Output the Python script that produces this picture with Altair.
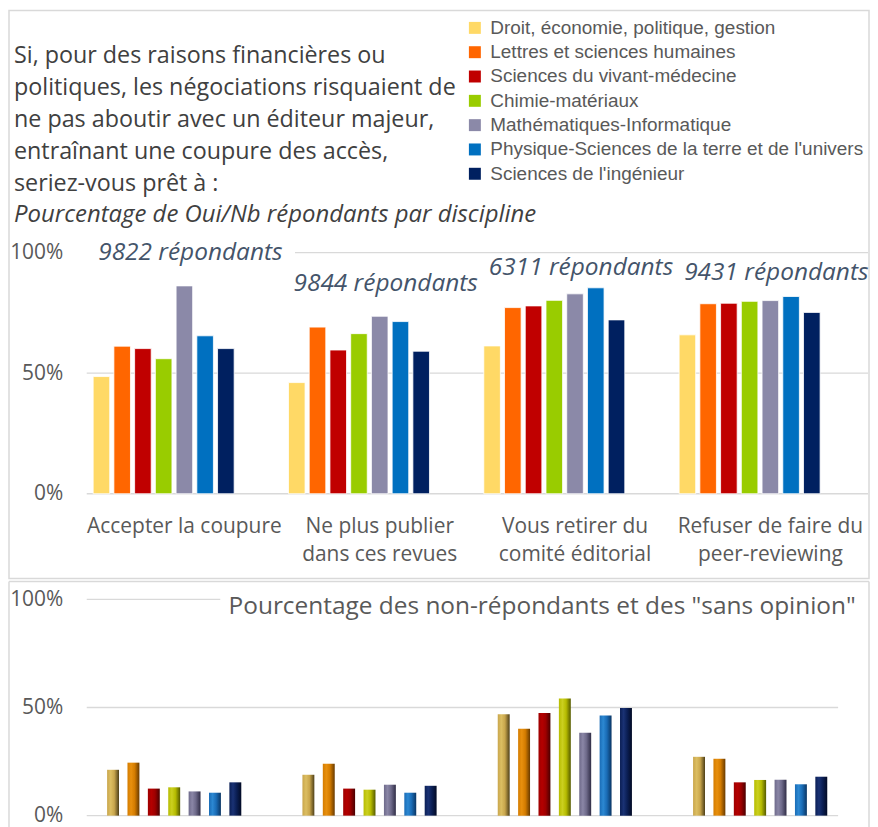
import altair as alt
import pandas as pd

# ---------------- data ----------------
categories = [
    "Accepter la coupure",
    "Ne plus publier\ndans ces revues",
    "Vous retirer du\ncomité éditorial",
    "Refuser de faire du\npeer-reviewing",
]
disciplines = [
    "Droit, économie, politique, gestion",
    "Lettres et sciences humaines",
    "Sciences du vivant-médecine",
    "Chimie-matériaux",
    "Mathématiques-Informatique",
    "Physique-Sciences de la terre et de l'univers",
    "Sciences de l'ingénieur",
]

# % de Oui / nb répondants
oui_accepter = [48.6, 61.2, 60.2, 56.0, 86.2, 65.5, 60.2]
oui_publier = [46.1, 69.1, 59.6, 66.4, 73.6, 71.4, 59.1]
oui_comite = [61.3, 77.2, 77.9, 80.2, 82.9, 85.4, 72.1]
oui_peer = [65.9, 78.8, 79.0, 79.8, 80.1, 81.8, 75.2]

# % non-répondants et "sans opinion"
nr_accepter = [21.2, 24.5, 12.5, 13.1, 11.2, 10.6, 15.4]
nr_publier = [18.9, 24.0, 12.5, 12.0, 14.3, 10.6, 13.8]
nr_comite = [46.9, 40.2, 47.5, 54.2, 38.3, 46.3, 49.8]
nr_peer = [27.2, 26.3, 15.4, 16.5, 16.6, 14.5, 18.0]

respondents = [9822, 9844, 6311, 9431]
respondent_label_level = [100, 86.8, 93.8, 91.7]

y_ticks = [0, 50, 100]

title_lines = [
    "Si, pour des raisons financières ou",
    "politiques, les négociations risquaient de",
    "ne pas aboutir avec un éditeur majeur,",
    "entraînant une coupure des accès,",
    "seriez-vous prêt à :",
]
subtitle = "Pourcentage de Oui/Nb répondants par discipline"
bottom_title = 'Pourcentage des non-répondants et des "sans opinion"'

# ---------------- styles ----------------
top_colors = ["#FFD966", "#FF6600", "#C00000", "#99CC00", "#8B89A8", "#0070C0", "#002060"]
grad_light = ["#DCBE62", "#E8900E", "#B40000", "#CBD020", "#8A86A6", "#2C88D2", "#1A3274"]
grad_mid = ["#C9A64C", "#D47C00", "#9E0000", "#B6BC00", "#6E6A8A", "#1A6CB6", "#0B1F55"]
grad_dark = ["#4E3F18", "#683A00", "#4A0000", "#555A00", "#302D46", "#0A3563", "#020A24"]

FONT = "Open Sans"
GRID = "#D9D9D9"
TXT = "#595959"

W = 784
H_TOP = 242
H_BOT = 217

# ---------------- tables ----------------
rows = []
for cat, vals in zip(categories, [oui_accepter, oui_publier, oui_comite, oui_peer]):
    for d, v in zip(disciplines, vals):
        rows.append({"categorie": cat, "discipline": d, "valeur": v})
top_df = pd.DataFrame(rows)

rows = []
for cat, vals in zip(categories, [nr_accepter, nr_publier, nr_comite, nr_peer]):
    for d, v in zip(disciplines, vals):
        rows.append({"categorie": cat, "discipline": d, "valeur": v})
bot_df = pd.DataFrame(rows)

ann_df = pd.DataFrame({
    "categorie": categories,
    "label": [f"{n} répondants" for n in respondents],
    "niveau": respondent_label_level,
})
one = pd.DataFrame({"k": [0]})
grid_low = pd.DataFrame({"t": y_ticks[:2]})
grid_top = pd.DataFrame({"t": y_ticks[2:]})

# ---------------- shared encodings ----------------
y_scale = alt.Scale(domain=[0, 100], nice=False, zero=True)
y_axis = alt.Axis(values=y_ticks, labelExpr="datum.value + '%'", grid=False, domain=False,
                  ticks=False, labelPadding=24, title=None, labelFont=FONT, labelFontSize=21,
                  labelColor=TXT)

x_scale = alt.Scale(paddingInner=0, paddingOuter=0)
x_axis_top = alt.Axis(title=None, labelExpr="split(datum.label, '\\n')", labelFont=FONT,
                      labelFontSize=21, labelColor=TXT, labelPadding=22, ticks=False,
                      domain=False, labelLineHeight=28, labelAngle=0, labelLimit=400,
                      labelOverlap=False, grid=False)

x_top = alt.X("categorie:N", sort=categories, scale=x_scale, axis=x_axis_top)

# ---------------- top panel ----------------
top_border = alt.Chart(one).mark_rect(fillOpacity=0, stroke=GRID, strokeWidth=1.5).encode(
    x=alt.value(-78), x2=alt.value(785), y=alt.value(-243), y2=alt.value(327)
)
top_grid_low = alt.Chart(grid_low).mark_rule(color=GRID, strokeWidth=1.3).encode(
    y=alt.Y("t:Q", scale=y_scale, axis=y_axis), x=alt.value(0), x2=alt.value(W)
)
top_grid_high = alt.Chart(grid_top).mark_rule(color=GRID, strokeWidth=1.3).encode(
    y=alt.Y("t:Q", scale=y_scale, axis=y_axis), x=alt.value(209), x2=alt.value(W)
)
top_bars = alt.Chart(top_df).mark_bar(stroke="white", strokeWidth=0.8).encode(
    x=x_top,
    xOffset=alt.XOffset("discipline:N",
                        scale=alt.Scale(domain=disciplines + ["_v1", "_v2"],
                                        paddingInner=0.2, paddingOuter=0.31)),
    y=alt.Y("valeur:Q", scale=y_scale, axis=y_axis),
    color=alt.Color("discipline:N",
                    scale=alt.Scale(domain=disciplines, range=top_colors),
                    legend=alt.Legend(title=None, orient="none", legendX=380, legendY=-235,
                                      direction="vertical", symbolType="square",
                                      symbolSize=144, symbolStrokeWidth=0,
                                      labelFont="Liberation Sans", labelFontSize=19,
                                      labelColor=TXT, labelOffset=6, rowPadding=4.4,
                                      labelLimit=500, padding=0)),
)
top_labels = alt.Chart(ann_df).mark_text(
    font=FONT, fontStyle="italic", fontSize=24.5, color="#44546A", baseline="middle", dx=6
).encode(
    x=x_top,
    y=alt.Y("niveau:Q", scale=y_scale, axis=y_axis),
    text="label:N",
)
top_title = alt.Chart(one).mark_text(
    align="left", baseline="alphabetic", font=FONT, fontSize=23.4, lineHeight=32,
    color="#404040"
).encode(x=alt.value(-73), y=alt.value(-190), text=alt.value(title_lines))
top_subtitle = alt.Chart(one).mark_text(
    align="left", baseline="alphabetic", font=FONT, fontSize=24, fontStyle="italic",
    color="#404040"
).encode(x=alt.value(-73), y=alt.value(-31), text=alt.value(subtitle))

top = alt.layer(top_border, top_grid_low, top_grid_high, top_bars, top_labels,
                top_title, top_subtitle).properties(width=W, height=H_TOP)

# ---------------- bottom panel ----------------
x_bot = alt.X("categorie:N", sort=categories, scale=x_scale, axis=None)
xoff_bot = alt.XOffset("discipline:N",
                       scale=alt.Scale(domain=["_v0"] + disciplines + ["_v1", "_v2"],
                                       paddingInner=0.415, paddingOuter=0))

bot_layers = []
bot_layers.append(alt.Chart(one).mark_rule(color=GRID, strokeWidth=1.5).encode(
    x=alt.value(-78), y=alt.value(-18), y2=alt.value(240)))
bot_layers.append(alt.Chart(one).mark_rule(color=GRID, strokeWidth=1.5).encode(
    x=alt.value(785), y=alt.value(-18), y2=alt.value(240)))
bot_layers.append(alt.Chart(one).mark_rule(color=GRID, strokeWidth=1.5).encode(
    x=alt.value(-78), x2=alt.value(785), y=alt.value(-18)))
bot_layers.append(alt.Chart(grid_low).mark_rule(color=GRID, strokeWidth=1.3).encode(
    y=alt.Y("t:Q", scale=y_scale, axis=y_axis), x=alt.value(0), x2=alt.value(754)))
bot_layers.append(alt.Chart(grid_top).mark_rule(color=GRID, strokeWidth=1.3).encode(
    y=alt.Y("t:Q", scale=y_scale, axis=y_axis), x=alt.value(0), x2=alt.value(134)))

for i, d in enumerate(disciplines):
    grad = alt.LinearGradient(
        gradient="linear", x1=0, x2=1, y1=0, y2=0,
        stops=[alt.GradientStop(offset=0, color=grad_mid[i]),
               alt.GradientStop(offset=0.3, color=grad_light[i]),
               alt.GradientStop(offset=0.6, color=grad_mid[i]),
               alt.GradientStop(offset=1, color=grad_dark[i])],
    )
    bot_layers.append(
        alt.Chart(bot_df).transform_filter(alt.FieldEqualPredicate(field="discipline", equal=d))
        .mark_bar(color=grad)
        .encode(x=x_bot, xOffset=xoff_bot,
                y=alt.Y("valeur:Q", scale=y_scale, axis=y_axis))
    )

bot_layers.append(alt.Chart(one).mark_text(
    align="center", baseline="middle", font=FONT, fontSize=24.5, color=TXT
).encode(x=alt.value(457), y=alt.value(8), text=alt.value(bottom_title)))

bottom = alt.layer(*bot_layers).properties(width=W, height=H_BOT)

chart = alt.vconcat(top, bottom, spacing=1).resolve_scale(
    xOffset="independent"
).properties(
    padding=0, background="white"
).configure_view(strokeWidth=0)

chart.save("out.html", embed_options={"renderer": "svg", "actions": False})
